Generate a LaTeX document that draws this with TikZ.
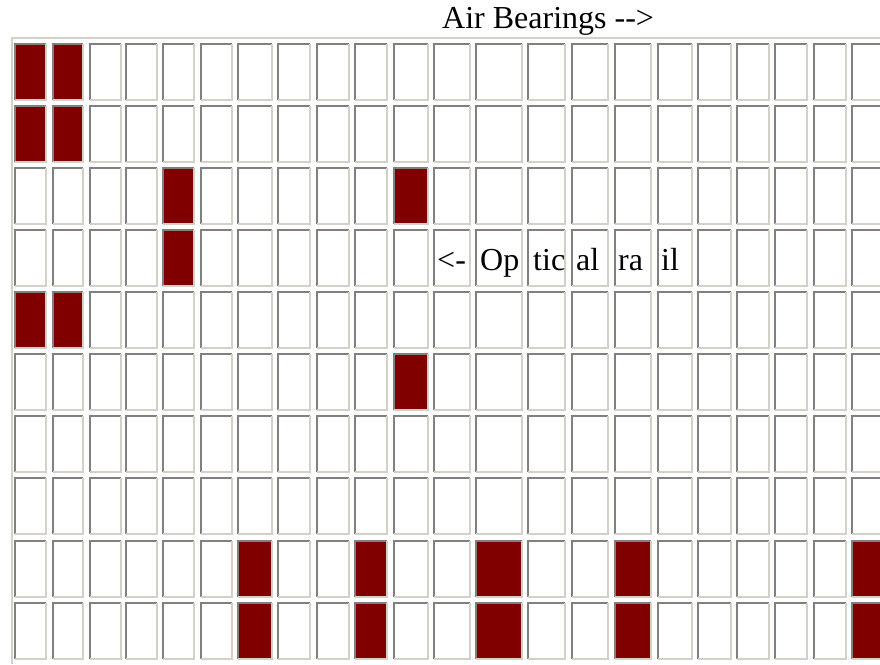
\documentclass[tikz,border=0pt]{standalone}
\usepackage{fontspec}
\setmainfont{Liberation Serif}
\definecolor{bearing}{HTML}{800000}
\definecolor{shade}{HTML}{808080}
\definecolor{light}{HTML}{D4D0C8}

\begin{document}
\begin{tikzpicture}[x=1pt,y=-1pt]
        % Styles
        \tikzstyle{cell}=[inner sep=0pt,fill=white]
        \tikzstyle{dark edge}=[draw=shade,line width=2pt]
        \tikzstyle{light edge}=[draw=light,line width=2pt]
        \tikzstyle{label text}=[inner sep=0pt,anchor=base west,font=\fontsize{32}{38}\selectfont]
        \useasboundingbox (0,0) rectangle (880,664);
        %table frame
        \draw[light edge] (12,664) -- (12,38) -- (880,38);
        %cells
        \foreach \c/\l/\r in {1/14/47,2/52/84,3/89/122,4/125/158,5/162/195,6/200/233,
                              7/237/273,8/277/311,9/316/350,10/354/388,11/393/429,
                              12/433/471,13/475/523,14/527/566,15/571/609,16/614/652,
                              17/657/693,18/697/732,19/736/770,20/774/808,21/813/847,22/851/889}
            \foreach \row in {1,...,10}
            {
                \pgfmathsetmacro\t{43.2+62.07*(\row-1)}
                \node[cell,minimum width={\r-\l-2},minimum height=55.6]
                    (c-\row-\c) at ({(\l+\r)/2},{\t+28.8}) {};
                \draw[dark edge] (c-\row-\c.south west) -- (c-\row-\c.north west) -- (c-\row-\c.north east);
                \draw[light edge] (c-\row-\c.north east) -- (c-\row-\c.south east) -- (c-\row-\c.south west);
            }
        %air bearings
        \foreach \row/\c in {1/1,1/2,2/1,2/2,3/5,3/11,4/5,5/1,5/2,6/11,
                             9/7,9/10,9/13,9/16,9/22,10/7,10/10,10/13,10/16,10/22}
            \fill[bearing] ([xshift=1pt,yshift=1pt]c-\row-\c.south west) rectangle ([xshift=-1pt,yshift=-1pt]c-\row-\c.north east);
        %texts
        \node[label text] (title) at (442,28) {Air Bearings -\kern0pt-\kern0pt>};
        \foreach \c/\x/\txt in {12/437/{<-},13/480/Op,14/533/tic,15/576/al,16/618/ra,17/661/il}
            \node[label text] (rail-\c) at (\x,270) {\txt};
\end{tikzpicture}
\end{document}
